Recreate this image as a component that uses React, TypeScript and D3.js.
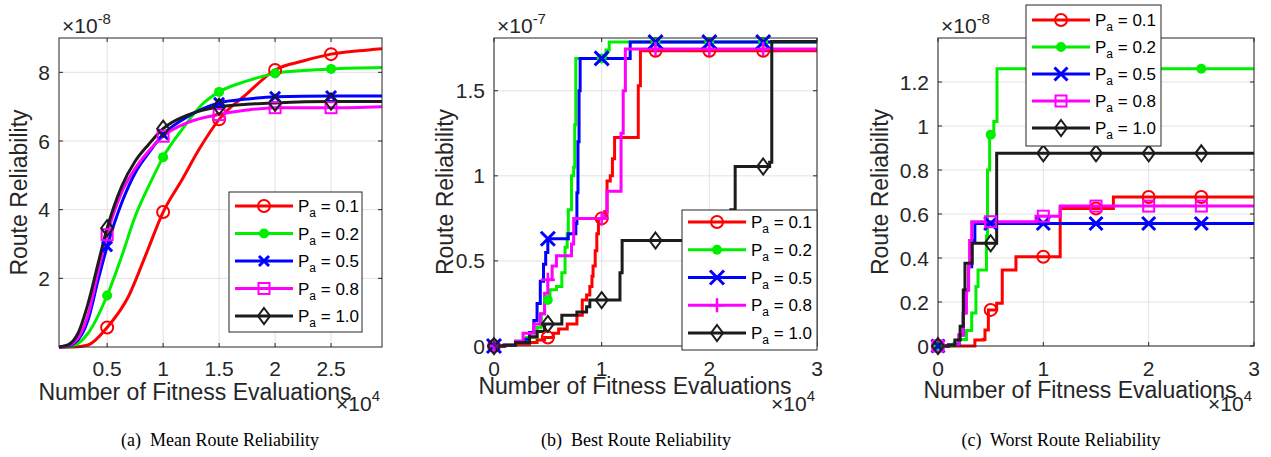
import React, { useRef, useEffect } from "react";
import * as d3 from "d3";

type Pt = [number, number];

// x values are in units of 1e4 evaluations, y values in the axis' exponent units

// (a) mean route reliability, y x 1e-8
const meanPa01: Pt[] = [[0.07, 0], [0.2, 0], [0.33, 0.06], [0.5, 0.57], [0.69, 1.47], [0.84, 2.64], [1.0, 3.93], [1.17, 4.88], [1.32, 5.75], [1.5, 6.63], [1.75, 7.38], [2.0, 8.07], [2.25, 8.33], [2.5, 8.53], [2.75, 8.63], [2.955, 8.69]];
const meanPa02: Pt[] = [[0.07, 0], [0.15, 0], [0.33, 0.4], [0.5, 1.5], [0.63, 2.64], [0.75, 3.8], [0.9, 4.88], [1.0, 5.53], [1.17, 6.34], [1.35, 7.07], [1.5, 7.43], [1.75, 7.75], [2.0, 7.97], [2.25, 8.05], [2.5, 8.1], [2.955, 8.14]];
const meanPa05: Pt[] = [[0.07, 0], [0.1, 0], [0.21, 0.12], [0.33, 0.79], [0.42, 1.96], [0.5, 2.93], [0.63, 4.2], [0.75, 5.07], [0.87, 5.65], [1.0, 6.19], [1.23, 6.73], [1.5, 7.11], [1.75, 7.22], [2.0, 7.29], [2.5, 7.31], [2.955, 7.31]];
const meanPa08: Pt[] = [[0.07, 0], [0.1, 0], [0.21, 0.15], [0.33, 0.95], [0.42, 2.2], [0.5, 3.27], [0.63, 4.5], [0.75, 5.2], [0.87, 5.7], [1.0, 6.14], [1.23, 6.55], [1.5, 6.77], [1.75, 6.9], [2.0, 6.97], [2.5, 6.97], [2.955, 7.0]];
const meanPa10: Pt[] = [[0.07, 0], [0.15, 0.06], [0.24, 0.4], [0.33, 1.27], [0.42, 2.44], [0.5, 3.46], [0.63, 4.68], [0.75, 5.41], [0.87, 5.9], [1.0, 6.36], [1.23, 6.77], [1.5, 7.0], [1.75, 7.07], [2.0, 7.11], [2.5, 7.15], [2.955, 7.15]];

// (b) best route reliability, y x 1e-7 (step curves)
const bestPa01: Pt[] = [[0, 0], [0.1, 0.005], [0.2, 0.01], [0.33, 0.02], [0.4, 0.035], [0.47, 0.05], [0.55, 0.075], [0.6, 0.1], [0.68, 0.13], [0.77, 0.18], [0.82, 0.27], [0.86, 0.3], [0.89, 0.35], [0.91, 0.41], [0.92, 0.47], [0.94, 0.56], [0.955, 0.66], [0.97, 0.75], [1.03, 0.79], [1.05, 0.97], [1.08, 1.0], [1.1, 1.1], [1.12, 1.225], [1.34, 1.53], [1.36, 1.735], [3, 1.735]];
const bestPa02: Pt[] = [[0, 0], [0.1, 0.005], [0.2, 0.02], [0.3, 0.05], [0.4, 0.11], [0.44, 0.19], [0.47, 0.27], [0.52, 0.33], [0.58, 0.35], [0.63, 0.43], [0.66, 0.58], [0.68, 0.66], [0.69, 0.8], [0.72, 1.0], [0.74, 1.05], [0.75, 1.3], [0.76, 1.69], [1.04, 1.74], [1.07, 1.786], [3, 1.786]];
const bestPa05: Pt[] = [[0, 0], [0.1, 0.005], [0.2, 0.02], [0.28, 0.04], [0.33, 0.08], [0.37, 0.15], [0.4, 0.25], [0.43, 0.38], [0.46, 0.48], [0.48, 0.55], [0.5, 0.63], [0.69, 0.66], [0.76, 0.72], [0.77, 0.9], [0.78, 1.2], [0.79, 1.5], [0.8, 1.69], [1.265, 1.786], [3, 1.786]];
const bestPa08: Pt[] = [[0, 0], [0.1, 0.005], [0.2, 0.03], [0.27, 0.075], [0.37, 0.13], [0.43, 0.19], [0.47, 0.31], [0.5, 0.39], [0.54, 0.47], [0.58, 0.53], [0.72, 0.6], [0.74, 0.75], [1.03, 0.77], [1.05, 0.91], [1.18, 1.25], [1.2, 1.5], [1.22, 1.745], [3, 1.745]];
const bestPa10: Pt[] = [[0, 0], [0.09, 0.005], [0.2, 0.02], [0.33, 0.055], [0.4, 0.085], [0.47, 0.13], [0.63, 0.18], [0.77, 0.2], [0.86, 0.23], [0.89, 0.27], [1.17, 0.43], [1.19, 0.62], [1.95, 0.7], [2.2, 0.8], [2.24, 1.055], [2.56, 1.08], [2.58, 1.79], [3, 1.79]];

// (c) worst route reliability, y x 1e-8 (step curves)
const worstPa01: Pt[] = [[0, 0], [0.16, 0], [0.35, 0.027], [0.43, 0.03], [0.446, 0.073], [0.478, 0.164], [0.557, 0.194], [0.61, 0.345], [0.74, 0.406], [1.16, 0.625], [1.665, 0.677], [3, 0.677]];
const worstPa02: Pt[] = [[0, 0], [0.15, 0.01], [0.2, 0.03], [0.27, 0.07], [0.32, 0.15], [0.36, 0.27], [0.38, 0.345], [0.46, 0.5], [0.47, 0.8], [0.49, 0.96], [0.53, 1.02], [0.56, 1.26], [3, 1.26]];
const worstPa05: Pt[] = [[0, 0], [0.1, 0.005], [0.2, 0.05], [0.24, 0.15], [0.256, 0.255], [0.29, 0.36], [0.32, 0.48], [0.35, 0.557], [3, 0.557]];
const worstPa08: Pt[] = [[0, 0], [0.1, 0.005], [0.2, 0.05], [0.24, 0.15], [0.27, 0.255], [0.29, 0.36], [0.3, 0.48], [0.32, 0.565], [0.93, 0.59], [1.16, 0.636], [3, 0.636]];
const worstPa10: Pt[] = [[0, 0], [0.1, 0.005], [0.16, 0.027], [0.21, 0.09], [0.24, 0.255], [0.256, 0.376], [0.325, 0.467], [0.557, 0.876], [3, 0.876]];

const paLabels = ["0.1", "0.2", "0.5", "0.8", "1.0"];
const colors = ["#ff0000", "#00ee00", "#0000ff", "#ff00ff", "#1c1c1c"];

const meanMarkerX = [0.5, 1, 1.5, 2, 2.5];
const stepMarkerX = [0, 0.5, 1, 1.5, 2, 2.5];

const meanXTicks = [0.5, 1, 1.5, 2, 2.5];
const meanYTicks = [2, 4, 6, 8];
const bestXTicks = [0, 1, 2, 3];
const bestYTicks = [0, 0.5, 1, 1.5];
const worstXTicks = [0, 1, 2, 3];
const worstYTicks = [0, 0.2, 0.4, 0.6, 0.8, 1, 1.2];

const FONT = "'Liberation Sans', Arial, Helvetica, sans-serif";
const SERIF = "'Liberation Serif', 'Times New Roman', serif";

const panels = [
  {
    left: 59, right: 382, top: 38, bottom: 347,
    xDomain: [0.07, 2.955], yDomain: [0, 9],
    xTicks: meanXTicks, yTicks: meanYTicks,
    series: [meanPa01, meanPa02, meanPa05, meanPa08, meanPa10],
    markers: ["o", "dot", "x", "s", "d"], xSize: 5,
    step: false, markerX: meanMarkerX,
    legend: { left: 229, top: 192, width: 133, height: 140, row0: 206, gap: 27.5 },
    yExp: "-8", xLabelX: 195, xLabelY: 400, yLabelX: 27,
    caption: "(a)  Mean Route Reliability", captionX: 220,
  },
  {
    left: 494, right: 817, top: 38, bottom: 346,
    xDomain: [0, 3], yDomain: [0, 1.81],
    xTicks: bestXTicks, yTicks: bestYTicks,
    series: [bestPa01, bestPa02, bestPa05, bestPa08, bestPa10],
    markers: ["o", "dot", "x", "+", "d"], xSize: 7,
    step: true, markerX: stepMarkerX,
    legend: { left: 682, top: 210, width: 135, height: 140, row0: 222, gap: 27.75 },
    yExp: "-7", xLabelX: 635, xLabelY: 394, yLabelX: 453,
    caption: "(b)  Best Route Reliability", captionX: 636,
  },
  {
    left: 938, right: 1254, top: 38, bottom: 346,
    xDomain: [0, 3], yDomain: [0, 1.4],
    xTicks: worstXTicks, yTicks: worstYTicks,
    series: [worstPa01, worstPa02, worstPa05, worstPa08, worstPa10],
    markers: ["o", "dot", "x", "s", "d"], xSize: 6.5,
    step: true, markerX: stepMarkerX,
    legend: { left: 1026, top: 5, width: 135, height: 141, row0: 20, gap: 27 },
    yExp: "-8", xLabelX: 1080, xLabelY: 398, yLabelX: 888,
    caption: "(c)  Worst Route Reliability", captionX: 1061,
  },
];

function stepAt(data: Pt[], x: number) {
  let v = data[0][1];
  for (const d of data) if (d[0] <= x + 1e-9) v = d[1];
  return v;
}

function drawMarker(g: any, kind: string, cx: number, cy: number, color: string, xs: number) {
  if (kind === "o") {
    g.append("circle").attr("cx", cx).attr("cy", cy).attr("r", 6)
      .attr("fill", "none").attr("stroke", color).attr("stroke-width", 2);
  } else if (kind === "dot") {
    g.append("circle").attr("cx", cx).attr("cy", cy).attr("r", 5).attr("fill", color);
  } else if (kind === "x") {
    g.append("path")
      .attr("d", `M${cx - xs},${cy - xs}L${cx + xs},${cy + xs}M${cx - xs},${cy + xs}L${cx + xs},${cy - xs}`)
      .attr("stroke", color).attr("stroke-width", 3).attr("fill", "none");
  } else if (kind === "s") {
    g.append("rect").attr("x", cx - 5.5).attr("y", cy - 5.5).attr("width", 11).attr("height", 11)
      .attr("fill", "none").attr("stroke", color).attr("stroke-width", 2);
  } else if (kind === "+") {
    g.append("path")
      .attr("d", `M${cx - 7},${cy}L${cx + 7},${cy}M${cx},${cy - 7}L${cx},${cy + 7}`)
      .attr("stroke", color).attr("stroke-width", 2.5).attr("fill", "none");
  } else if (kind === "d") {
    g.append("path")
      .attr("d", `M${cx},${cy - 8}L${cx + 6},${cy}L${cx},${cy + 8}L${cx - 6},${cy}Z`)
      .attr("fill", "none").attr("stroke", color).attr("stroke-width", 2);
  }
}

const App = () => {
  const svgRef = useRef<SVGSVGElement>(null);

  useEffect(() => {
    const svg = d3.select(svgRef.current).html("");

    panels.forEach((p) => {
      const x = d3.scaleLinear().domain(p.xDomain).range([p.left, p.right]);
      const y = d3.scaleLinear().domain(p.yDomain).range([p.bottom, p.top]);
      const g = svg.append("g");

      g.append("rect").attr("x", p.left).attr("y", p.top)
        .attr("width", p.right - p.left).attr("height", p.bottom - p.top).attr("fill", "#fff");

      // grid
      g.selectAll(".gx").data(p.xTicks).join("line")
        .attr("x1", (d) => x(d)).attr("x2", (d) => x(d))
        .attr("y1", p.top).attr("y2", p.bottom)
        .attr("stroke", "#e2e2e2").attr("stroke-width", 1);
      g.selectAll(".gy").data(p.yTicks).join("line")
        .attr("y1", (d) => y(d)).attr("y2", (d) => y(d))
        .attr("x1", p.left).attr("x2", p.right)
        .attr("stroke", "#e2e2e2").attr("stroke-width", 1);

      // series
      const line = d3.line<Pt>()
        .x((d) => x(d[0])).y((d) => y(d[1]))
        .curve(p.step ? d3.curveStepAfter : d3.curveMonotoneX);
      p.series.forEach((s, i) => {
        g.append("path").attr("d", line(s)).attr("fill", "none")
          .attr("stroke", colors[i]).attr("stroke-width", 3);
      });
      p.series.forEach((s, i) => {
        p.markerX.forEach((mx) => {
          let my: number | undefined;
          if (p.step) my = stepAt(s, mx);
          else my = s.find((d) => Math.abs(d[0] - mx) < 1e-6)?.[1];
          if (my === undefined) return;
          drawMarker(g, p.markers[i], x(mx), y(my), colors[i], p.xSize);
        });
      });

      // box and inward ticks
      g.append("rect").attr("x", p.left).attr("y", p.top)
        .attr("width", p.right - p.left).attr("height", p.bottom - p.top)
        .attr("fill", "none").attr("stroke", "#262626").attr("stroke-width", 1);
      p.xTicks.forEach((t) => {
        g.append("line").attr("x1", x(t)).attr("x2", x(t)).attr("y1", p.bottom).attr("y2", p.bottom - 4).attr("stroke", "#262626");
        g.append("line").attr("x1", x(t)).attr("x2", x(t)).attr("y1", p.top).attr("y2", p.top + 4).attr("stroke", "#262626");
      });
      p.yTicks.forEach((t) => {
        g.append("line").attr("y1", y(t)).attr("y2", y(t)).attr("x1", p.left).attr("x2", p.left + 4).attr("stroke", "#262626");
        g.append("line").attr("y1", y(t)).attr("y2", y(t)).attr("x1", p.right).attr("x2", p.right - 4).attr("stroke", "#262626");
      });

      // tick labels
      g.selectAll(".tx").data(p.xTicks).join("text")
        .attr("x", (d) => x(d)).attr("y", 376)
        .attr("text-anchor", "middle").attr("font-family", FONT).attr("font-size", 21)
        .attr("fill", "#262626").text((d) => String(d));
      g.selectAll(".ty").data(p.yTicks).join("text")
        .attr("x", p.left - 9).attr("y", (d) => y(d)).attr("dy", "0.36em")
        .attr("text-anchor", "end").attr("font-family", FONT).attr("font-size", 21)
        .attr("fill", "#262626").text((d) => String(d));

      // axis labels
      g.append("text").attr("x", p.xLabelX).attr("y", p.xLabelY)
        .attr("text-anchor", "middle").attr("font-family", FONT).attr("font-size", 23)
        .attr("fill", "#262626").text("Number of Fitness Evaluations");
      g.append("text")
        .attr("transform", `translate(${p.yLabelX},${(p.top + p.bottom) / 2})rotate(-90)`)
        .attr("text-anchor", "middle").attr("font-family", FONT).attr("font-size", 23)
        .attr("fill", "#262626").text("Route Reliability");

      // exponent labels
      const ey = g.append("text").attr("x", p.left + 3).attr("y", 33)
        .attr("font-family", FONT).attr("font-size", 21).attr("fill", "#262626");
      ey.append("tspan").text("\u00d710");
      ey.append("tspan").attr("dy", -9).attr("font-size", 15).text(p.yExp);
      const ex = g.append("text").attr("x", p.right - 2).attr("y", 411)
        .attr("text-anchor", "end").attr("font-family", FONT).attr("font-size", 21).attr("fill", "#262626");
      ex.append("tspan").text("\u00d710");
      ex.append("tspan").attr("dy", -10).attr("font-size", 15).text("4");

      // legend
      const L = p.legend;
      g.append("rect").attr("x", L.left).attr("y", L.top).attr("width", L.width).attr("height", L.height)
        .attr("fill", "#fff").attr("stroke", "#262626").attr("stroke-width", 1);
      paLabels.forEach((lab, i) => {
        const ry = L.row0 + i * L.gap;
        g.append("line").attr("x1", L.left + 6).attr("x2", L.left + 64).attr("y1", ry).attr("y2", ry)
          .attr("stroke", colors[i]).attr("stroke-width", 3);
        drawMarker(g, p.markers[i], L.left + 35, ry, colors[i], p.xSize);
        const t = g.append("text").attr("x", L.left + 69).attr("y", ry + 6)
          .attr("font-family", FONT).attr("font-size", 17).attr("fill", "#000")
          .style("white-space", "pre");
        t.append("tspan").text("P");
        t.append("tspan").attr("dy", 5).attr("font-size", 12).text("a");
        t.append("tspan").attr("dy", -5).text(" = " + lab);
      });

      // caption
      g.append("text").attr("x", p.captionX).attr("y", 446)
        .attr("text-anchor", "middle").attr("font-family", SERIF).attr("font-size", 18)
        .attr("fill", "#000").style("white-space", "pre").text(p.caption);
    });
  }, []);

  return (
    <svg
      ref={svgRef}
      width={1271}
      height={457}
      style={{ position: "absolute", left: 0, top: 0, background: "#fff" }}
    />
  );
};

export default App;
